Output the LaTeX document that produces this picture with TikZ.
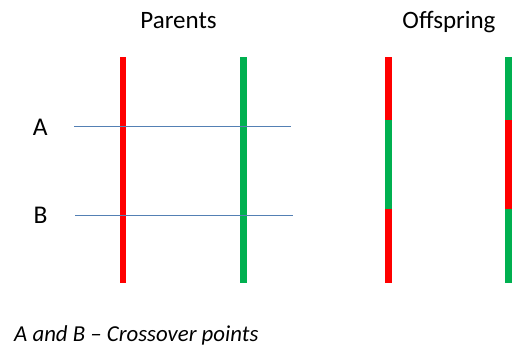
\documentclass[tikz,border=0pt]{standalone}
\usepackage{fontspec}
\setmainfont{Carlito}
\definecolor{chromred}{RGB}{255,0,0}
\definecolor{chromgreen}{RGB}{0,176,80}
\definecolor{cutline}{RGB}{84,128,180}
\begin{document}
\begin{tikzpicture}[x=1pt,y=-1pt,
  title/.style={font=\fontsize{25}{30}\selectfont, inner sep=0pt, anchor=base},
  pointlabel/.style={font=\fontsize{25.5}{30}\selectfont, inner sep=0pt, anchor=base},
  redseg/.style={fill=chromred},
  greenseg/.style={fill=chromgreen},
  cut/.style={draw=cutline, line width=0.9pt}]
\useasboundingbox (0,0) rectangle (512,346);
\fill[white] (0,0) rectangle (512,346);

% headings
\node[title] (parents) at (178.5,28) {Parents};
\node[title] (offspring) at (449,28.3) {Offspring};

% parent chromosomes
\fill[redseg]   (119.5,57) rectangle (126,283);
\fill[greenseg] (240,57) rectangle (246.5,283);

% offspring chromosomes, swapped between the two crossover points
\fill[redseg]   (385,57)    rectangle (391.5,119.5);
\fill[greenseg] (385,119.5) rectangle (391.5,208.5);
\fill[redseg]   (385,208.5) rectangle (391.5,283);
\fill[greenseg] (505,57)    rectangle (511.5,119.5);
\fill[redseg]   (505,119.5) rectangle (511.5,208.5);
\fill[greenseg] (505,208.5) rectangle (511.5,283);

% crossover points
\node[pointlabel] (labA) at (40.3,135.7) {A};
\node[pointlabel] (labB) at (40.5,223.4) {B};
\coordinate (a1) at (74,126.5);
\coordinate (a2) at (291,126.5);
\coordinate (b1) at (75,215.5);
\coordinate (b2) at (293,215.5);
\draw[cut] (a1) -- (a2);
\draw[cut] (b1) -- (b2);

% legend
\node[font=\itshape\fontsize{22.8}{27}\selectfont, inner sep=0pt, anchor=base west]
  (legend) at (14,341.5) {A and B -- Crossover points};
\end{tikzpicture}
\end{document}
